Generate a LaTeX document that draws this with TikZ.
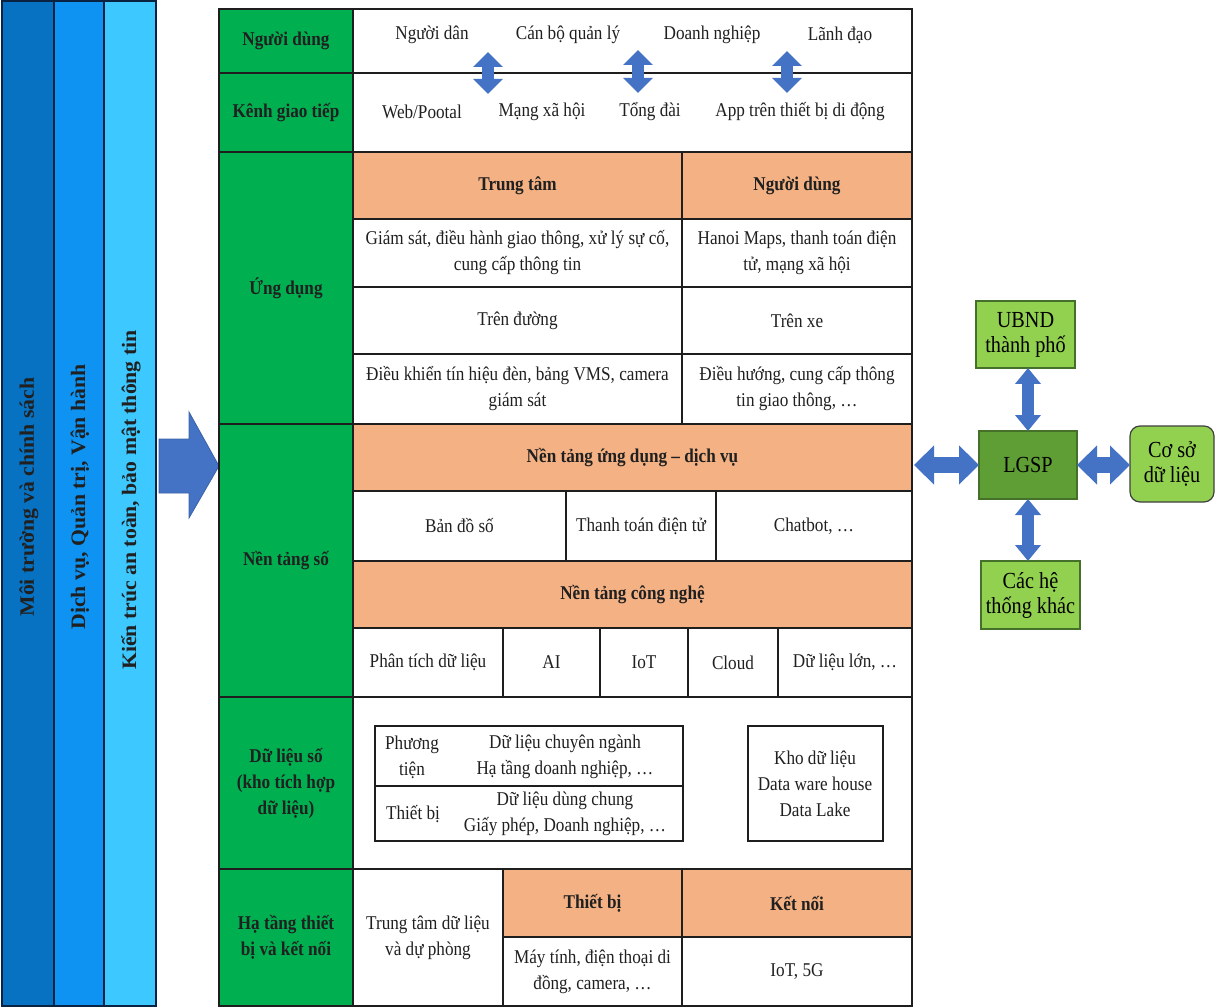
\documentclass[tikz,border=0pt]{standalone}
\usepackage{fontspec}
\setmainfont[FakeStretch=0.88]{Liberation Serif}
\newfontfamily\barfont[FakeStretch=1.06]{Liberation Serif}
\newfontfamily\rightfont[FakeStretch=0.88]{Liberation Serif}
\usetikzlibrary{arrows.meta}
\definecolor{tgreen}{HTML}{00B050}
\definecolor{torange}{HTML}{F4B183}
\definecolor{lineblack}{HTML}{1E1E1E}
\definecolor{txt}{HTML}{202020}
\definecolor{barA}{HTML}{0872C2}
\definecolor{barB}{HTML}{0E93F2}
\definecolor{barC}{HTML}{3DC8FF}
\definecolor{barline}{HTML}{0A2342}
\definecolor{arrowblue}{HTML}{4472C4}
\definecolor{arrowedge}{HTML}{3A62A8}
\definecolor{lgspgreen}{HTML}{5E9E35}
\definecolor{lightgreen}{HTML}{92D050}
\definecolor{greenedge}{HTML}{44702A}
\newcommand{\cellbox}[7]{%
  \pgfmathsetmacro{\mycw}{#4-#2}\pgfmathsetmacro{\mych}{#5-#3}%
  \node[#6, minimum width=\mycw pt, minimum height=\mych pt, anchor=north west] (#1) at (#2,#3) {#7};}
\tikzset{
  txtfont/.style={font=\rmfamily\fontsize{19.5}{26}\selectfont},
  btxtfont/.style={font=\rmfamily\bfseries\fontsize{19.5}{26}\selectfont},
  cellbase/.style={draw=lineblack, line width=1.2pt, inner sep=0pt, outer sep=0pt, align=center, text=txt},
  gcell/.style={cellbase, fill=tgreen, btxtfont},
  ocell/.style={cellbase, fill=torange, btxtfont},
  wcell/.style={cellbase, fill=white, txtfont},
  lbl/.style={inner sep=0pt, align=center, text=txt, txtfont},
  barcell/.style={draw=barline, line width=1.2pt, inner sep=0pt, outer sep=0pt},
  bartext/.style={inner sep=0pt, rotate=90, text=txt, font=\barfont\bfseries\fontsize{20.5}{24}\selectfont},
  rbox/.style={draw=greenedge, line width=1.2pt, fill=lightgreen, inner sep=0pt, outer sep=0pt, align=center, text=black, font=\rightfont\fontsize{23}{25}\selectfont},
  smalldbl/.style={arrowblue, line width=12pt, {Triangle[length=15pt,width=29pt]}-{Triangle[length=15pt,width=29pt]}},
  bigdbl/.style={arrowblue, line width=16pt, {Triangle[length=20pt,width=38pt]}-{Triangle[length=20pt,width=38pt]}},
  vdbl/.style={arrowblue, line width=12pt, {Triangle[length=16pt,width=25pt]}-{Triangle[length=16pt,width=25pt]}},
}
\begin{document}
\begin{tikzpicture}[x=1pt,y=-1pt]
\useasboundingbox (0,0) rectangle (1216,1008);
\fill[white] (0,0) rectangle (1216,1008);

% left bars
\cellbox{barone}{2}{1}{54}{1006}{barcell, fill=barA}{}
\cellbox{bartwo}{54}{1}{104}{1006}{barcell, fill=barB}{}
\cellbox{barthree}{104}{1}{156}{1006}{barcell, fill=barC}{}
\node[bartext] (tone) at (29,497) {Môi trường và chính sách};
\node[bartext] (ttwo) at (80,497) {Dịch vụ, Quản trị, Vận hành};
\node[bartext] (tthree) at (131,500) {Kiến trúc an toàn, bảo mật thông tin};

% big arrow
\filldraw[fill=arrowblue, draw=arrowedge, line width=0.8pt]
  (159,439) -- (189,439) -- (189,412) -- (219,466) -- (189,518) -- (189,493) -- (159,493) -- cycle;

% green column
\cellbox{gU}{219}{9}{353}{73}{gcell}{Người dùng}
\cellbox{gK}{219}{73}{353}{152}{gcell}{Kênh giao tiếp}
\cellbox{gA}{219}{152}{353}{424}{gcell}{Ứng dụng}
\cellbox{gN}{219}{424}{353}{697}{gcell}{Nền tảng số}
\cellbox{gD}{219}{697}{353}{869}{gcell}{Dữ liệu số\\(kho tích hợp\\dữ liệu)}
\cellbox{gH}{219}{869}{353}{1006}{gcell}{Hạ tầng thiết\\bị và kết nối}

% rows 1-2
\cellbox{rowU}{353}{9}{912}{73}{wcell}{}
\cellbox{rowK}{353}{73}{912}{152}{wcell}{}
\node[lbl] (u1) at (432,35) {Người dân};
\node[lbl] (u2) at (568,35) {Cán bộ quản lý};
\node[lbl] (u3) at (712,35) {Doanh nghiệp};
\node[lbl] (u4) at (840,35) {Lãnh đạo};
\node[lbl] (k1) at (422,112) {Web/Pootal};
\node[lbl] (k2) at (542,112) {Mạng xã hội};
\node[lbl] (k3) at (650,112) {Tổng đài};
\node[lbl] (k4) at (800,112) {App trên thiết bị di động};

% Ung dung
\cellbox{hTT}{353}{152}{682}{219}{ocell}{Trung tâm}
\cellbox{hND}{682}{152}{912}{219}{ocell}{Người dùng}
\cellbox{ra1}{353}{219}{682}{287}{wcell}{Giám sát, điều hành giao thông, xử lý sự cố,\\cung cấp thông tin}
\cellbox{rb1}{682}{219}{912}{287}{wcell}{Hanoi Maps, thanh toán điện\\tử, mạng xã hội}
\cellbox{ra2}{353}{287}{682}{354}{wcell}{Trên đường}
\cellbox{rb2}{682}{287}{912}{354}{wcell}{Trên xe}
\cellbox{ra3}{353}{354}{682}{424}{wcell}{Điều khiển tín hiệu đèn, bảng VMS, camera\\giám sát}
\cellbox{rb3}{682}{354}{912}{424}{wcell}{Điều hướng, cung cấp thông\\tin giao thông, …}

% Nen tang so
\cellbox{oUD}{353}{424}{912}{491}{ocell}{Nền tảng ứng dụng – dịch vụ}
\cellbox{c1}{353}{491}{566}{561}{wcell}{Bản đồ số}
\cellbox{c2}{566}{491}{716}{561}{wcell}{Thanh toán điện tử}
\cellbox{c3}{716}{491}{912}{561}{wcell}{Chatbot, …}
\cellbox{oCN}{353}{561}{912}{628}{ocell}{Nền tảng công nghệ}
\cellbox{d1}{353}{628}{503}{697}{wcell}{Phân tích dữ liệu}
\cellbox{d2}{503}{628}{600}{697}{wcell}{AI}
\cellbox{d3}{600}{628}{688}{697}{wcell}{IoT}
\cellbox{d4}{688}{628}{778}{697}{wcell}{Cloud}
\cellbox{d5}{778}{628}{912}{697}{wcell}{Dữ liệu lớn, …}

% Du lieu so
\cellbox{dl}{353}{697}{912}{869}{wcell}{}
\cellbox{pv}{375}{726}{683}{786}{wcell}{}
\cellbox{tb}{375}{786}{683}{841}{wcell}{}
\cellbox{kho}{748}{726}{883}{841}{wcell}{}
\node[lbl] (pvl) at (412,757) {Phương\\tiện};
\node[lbl] (pvr) at (565,757) {Dữ liệu chuyên ngành\\Hạ tầng doanh nghiệp, …};
\node[lbl] (tbl) at (413,814) {Thiết bị};
\node[lbl] (tbr) at (565,814) {Dữ liệu dùng chung\\Giấy phép, Doanh nghiệp, …};
\node[lbl] (khot) at (815,784) {Kho dữ liệu\\Data ware house\\Data Lake};

% Ha tang
\cellbox{tt}{353}{869}{503}{1006}{wcell}{Trung tâm dữ liệu\\và dự phòng}
\cellbox{oTB}{503}{869}{682}{937}{ocell}{Thiết bị}
\cellbox{oKN}{682}{869}{912}{937}{ocell}{Kết nối}
\cellbox{mt}{503}{937}{682}{1006}{wcell}{Máy tính, điện thoại di\\đồng, camera, …}
\cellbox{iot}{682}{937}{912}{1006}{wcell}{IoT, 5G}

% outer frame
\cellbox{frame}{219}{9}{912}{1006}{draw=lineblack, line width=1.4pt, inner sep=0pt, outer sep=0pt}{}

% small arrows between rows
\coordinate (sa1) at (488,52); \coordinate (sb1) at (488,94);
\coordinate (sa2) at (638,50); \coordinate (sb2) at (638,93);
\coordinate (sa3) at (787,51); \coordinate (sb3) at (787,93);
\draw[smalldbl] (sa1) -- (sb1);
\draw[smalldbl] (sa2) -- (sb2);
\draw[smalldbl] (sa3) -- (sb3);

% right side
\cellbox{ubnd}{976}{301}{1075}{368}{rbox}{UBND\\thành phố}
\cellbox{lgsp}{979}{431}{1077}{499}{rbox, fill=lgspgreen, draw=greenedge}{LGSP}
\cellbox{khac}{981}{561}{1080}{629}{rbox}{Các hệ\\thống khác}
\cellbox{csdl}{1130}{426}{1214}{502}{rbox, rounded corners=10pt, draw=black!75}{Cơ sở\\dữ liệu}

\draw[bigdbl] ([xshift=2pt]frame.east |- lgsp.west) -- (lgsp.west);
\draw[bigdbl] (lgsp.east) -- (csdl.west |- lgsp.east);
\draw[vdbl] (lgsp.north) -- (lgsp.north |- ubnd.south);
\draw[vdbl] (lgsp.south) -- (lgsp.south |- khac.north);
\end{tikzpicture}
\end{document}
